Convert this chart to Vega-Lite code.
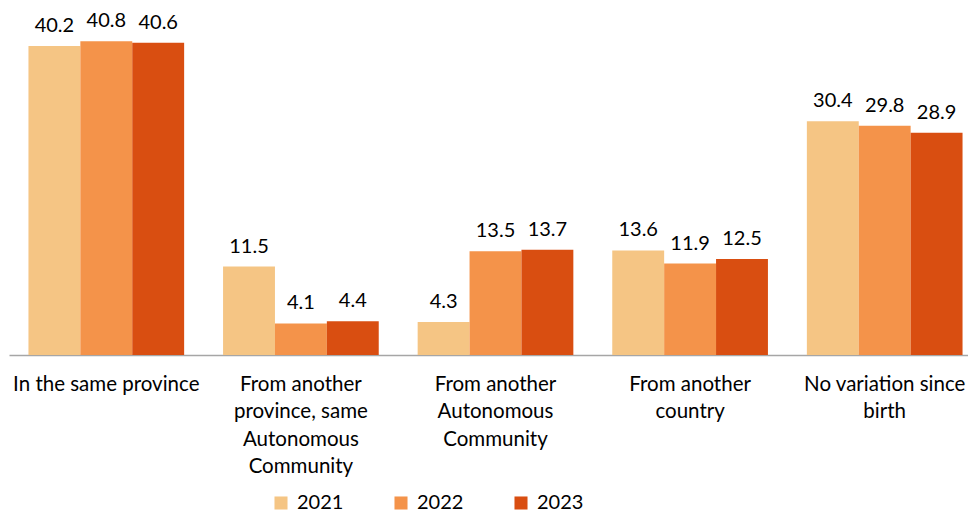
{
  "$schema": "https://vega.github.io/schema/vega-lite/v6.json",
  "width": 973,
  "height": 346,
  "autosize": "none",
  "padding": {"left": 9, "top": 9, "right": 0, "bottom": 158},
  "background": "white",
  "config": {
    "view": {"stroke": null},
    "font": "Lato",
    "text": {"font": "Lato"}
  },
  "data": {
    "values": [
      {"category": "In the same province", "year": "2021", "value": 40.2},
      {"category": "In the same province", "year": "2022", "value": 40.8},
      {"category": "In the same province", "year": "2023", "value": 40.6},
      {"category": "From another province, same Autonomous Community", "year": "2021", "value": 11.5},
      {"category": "From another province, same Autonomous Community", "year": "2022", "value": 4.1},
      {"category": "From another province, same Autonomous Community", "year": "2023", "value": 4.4},
      {"category": "From another Autonomous Community", "year": "2021", "value": 4.3},
      {"category": "From another Autonomous Community", "year": "2022", "value": 13.5},
      {"category": "From another Autonomous Community", "year": "2023", "value": 13.7},
      {"category": "From another country", "year": "2021", "value": 13.6},
      {"category": "From another country", "year": "2022", "value": 11.9},
      {"category": "From another country", "year": "2023", "value": 12.5},
      {"category": "No variation since birth", "year": "2021", "value": 30.4},
      {"category": "No variation since birth", "year": "2022", "value": 29.8},
      {"category": "No variation since birth", "year": "2023", "value": 28.9}
    ]
  },
  "encoding": {
    "x": {
      "field": "category",
      "type": "nominal",
      "sort": null,
      "scale": {"paddingInner": 0.2, "paddingOuter": 0.1},
      "axis": {
        "title": null,
        "labelAngle": 0,
        "ticks": false,
        "domainColor": "#A6A6A6",
        "domainWidth": 1.5,
        "labelFont": "Lato",
        "labelFontSize": 20.5,
        "labelColor": "#000000",
        "labelPadding": 19,
        "labelLineHeight": 27.5,
        "labelBaseline": "top",
        "labelLimit": 300,
        "labelExpr": "datum.value == 'From another province, same Autonomous Community' ? ['From another', 'province, same', 'Autonomous', 'Community'] : datum.value == 'From another Autonomous Community' ? ['From another', 'Autonomous', 'Community'] : datum.value == 'From another country' ? ['From another', 'country'] : datum.value == 'No variation since birth' ? ['No variation since', 'birth'] : datum.value"
      }
    },
    "xOffset": {"field": "year", "type": "nominal", "scale": {"paddingInner": 0, "paddingOuter": 0}},
    "y": {
      "field": "value",
      "type": "quantitative",
      "scale": {"domain": [0, 45], "nice": false},
      "axis": null
    }
  },
  "layer": [
    {
      "mark": {"type": "bar"},
      "encoding": {
        "color": {
          "field": "year",
          "type": "nominal",
          "scale": {"domain": ["2021", "2022", "2023"], "range": ["#F5C584", "#F4934A", "#D94E11"]},
          "legend": {
            "title": null,
            "orient": "none",
            "direction": "horizontal",
            "legendX": 262,
            "legendY": 484,
            "symbolType": "square",
            "symbolSize": 170,
            "symbolStrokeWidth": 0,
            "symbolOffset": 0,
            "labelFont": "Lato",
            "labelFontSize": 20,
            "labelColor": "#000000",
            "labelOffset": 6,
            "columnPadding": 47
          }
        }
      }
    },
    {
      "mark": {"type": "text", "baseline": "alphabetic", "dy": -14, "fontSize": 20, "color": "#000000", "font": "Lato"},
      "encoding": {
        "text": {"field": "value", "type": "quantitative", "format": ".1f"}
      }
    }
  ]
}
